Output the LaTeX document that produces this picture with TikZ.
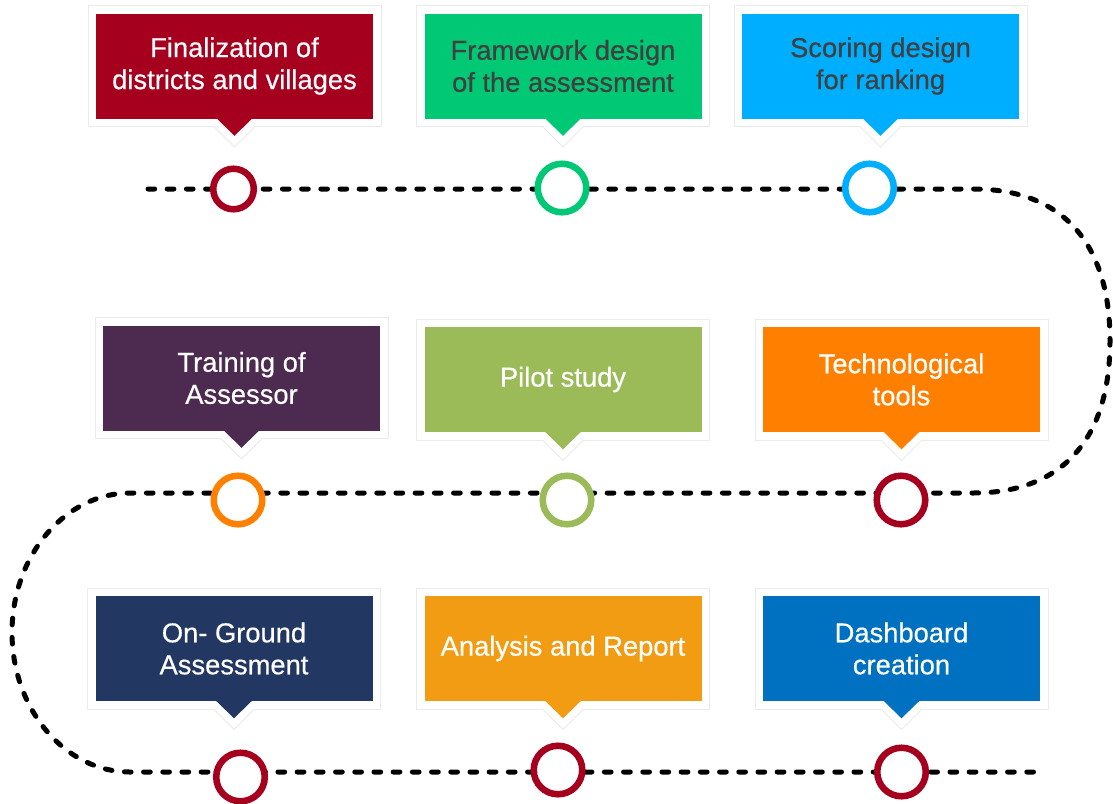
\documentclass[tikz,border=0pt]{standalone}
\usepackage{fontspec}
\setmainfont{Liberation Sans}[UprightFeatures={FakeBold=0.5}]
\usetikzlibrary{positioning, calc}

\definecolor{stepRed}{HTML}{A6001F}
\definecolor{stepGreen}{HTML}{00C875}
\definecolor{stepSky}{HTML}{00AEFF}
\definecolor{stepPlum}{HTML}{4D2A4F}
\definecolor{stepOlive}{HTML}{9BBB59}
\definecolor{stepOrange}{HTML}{FF8000}
\definecolor{stepNavy}{HTML}{223862}
\definecolor{stepAmber}{HTML}{F29C14}
\definecolor{stepBlue}{HTML}{0070C0}
\definecolor{frameGray}{HTML}{EBEBEB}
\definecolor{textGray}{HTML}{404040}

\tikzset{
  frameBox/.style={
    rectangle,
    draw=frameGray,
    fill=white,
    line width=0.75pt,
    inner sep=0pt,
    minimum width=219.75pt,
    minimum height=90.75pt
  },
  stepBox/.style={
    rectangle,
    inner sep=0pt,
    minimum width=207.75pt,
    minimum height=78.75pt,
    align=center,
    text=white,
    font=\fontsize{20.5}{24}\selectfont
  },
  ring/.style={
    circle,
    draw,
    fill=white,
    line width=4.9pt,
    inner sep=0pt,
    minimum size=36.4pt
  },
  route/.style={
    line width=3.75pt,
    line cap=round,
    dash pattern=on 5pt off 9.4pt
  }
}

\begin{document}
\begin{tikzpicture}[x=0.75pt, y=0.75pt]
  \useasboundingbox (0,0) rectangle (1113,-803);

  % dashed track
  \coordinate (trackStart) at (148,-189);
  \coordinate (rightTop) at (973,-189);
  \coordinate (rightEdge) at (1110,-341);
  \coordinate (rightBottom) at (973,-493);
  \coordinate (leftTop) at (130,-493);
  \coordinate (leftEdge) at (12,-632.5);
  \coordinate (leftBottom) at (130,-772);
  \coordinate (trackEnd) at (1042,-772);
  \draw[route] (trackStart) -- (rightTop)
    .. controls +(89,0) and +(0,98.8) .. (rightEdge)
    .. controls +(0,-98.8) and +(89,0) .. (rightBottom)
    -- (leftTop)
    .. controls +(-64.9,0) and +(0,76.7) .. (leftEdge)
    .. controls +(0,-76.7) and +(-64.9,0) .. (leftBottom)
    -- (trackEnd);

  % frames
  \node[frameBox] (f1) at (234.5,-66) {};
  \node[frameBox] (f2) at (563,-66) {};
  \node[frameBox] (f3) at (880.5,-66) {};
  \node[frameBox] (f4) at (241.5,-378) {};
  \node[frameBox] (f5) at (563,-379.5) {};
  \node[frameBox] (f6) at (901.5,-379.5) {};
  \node[frameBox] (f7) at (234,-648.5) {};
  \node[frameBox] (f8) at (563,-648.5) {};
  \node[frameBox] (f9) at (901.5,-648.5) {};

  % steps
  \node[stepBox, fill=stepRed] (s1) at (f1) {Finalization of\\districts and villages};
  \node[stepBox, fill=stepGreen, text=textGray] (s2) at (f2) {Framework design\\of the assessment};
  \node[stepBox, fill=stepSky, text=textGray] (s3) at (f3) {Scoring design\\for ranking};
  \node[stepBox, fill=stepPlum] (s4) at (f4) {Training of\\Assessor};
  \node[stepBox, fill=stepOlive] (s5) at (f5) {Pilot study};
  \node[stepBox, fill=stepOrange] (s6) at (f6) {Technological\\tools};
  \node[stepBox, fill=stepNavy] (s7) at (f7) {On- Ground\\Assessment};
  \node[stepBox, fill=stepAmber] (s8) at (f8) {Analysis and Report};
  \node[stepBox, fill=stepBlue] (s9) at (f9) {Dashboard\\creation};

  % pointers
  \foreach \i/\col in {1/stepRed, 2/stepGreen, 3/stepSky, 4/stepPlum, 5/stepOlive,
                       6/stepOrange, 7/stepNavy, 8/stepAmber, 9/stepBlue} {
    \fill[white] ($(f\i.south)+(-20,1)$) -- ($(f\i.south)+(0,-20)$) -- ($(f\i.south)+(20,1)$) -- cycle;
    \draw[frameGray, line width=0.75pt] ($(f\i.south)+(-20,0)$) -- ($(f\i.south)+(0,-20)$) -- ($(f\i.south)+(20,0)$);
    \fill[\col] ($(s\i.south)+(-18,0.5)$) -- ($(s\i.south)+(0,-17)$) -- ($(s\i.south)+(18,0.5)$) -- cycle;
  }

  % milestones
  \node[ring, draw=stepRed, minimum size=30.4pt] (c1) at (233.5,-189) {};
  \node[ring, draw=stepGreen] (c2) at (562,-188) {};
  \node[ring, draw=stepSky] (c3) at (869.5,-188) {};
  \node[ring, draw=stepOrange] (c4) at (238,-500) {};
  \node[ring, draw=stepOlive] (c5) at (567,-500) {};
  \node[ring, draw=stepRed] (c6) at (901,-500) {};
  \node[ring, draw=stepRed] (c7) at (240.5,-777) {};
  \node[ring, draw=stepRed] (c8) at (558,-770) {};
  \node[ring, draw=stepRed] (c9) at (901.5,-772) {};
\end{tikzpicture}
\end{document}
